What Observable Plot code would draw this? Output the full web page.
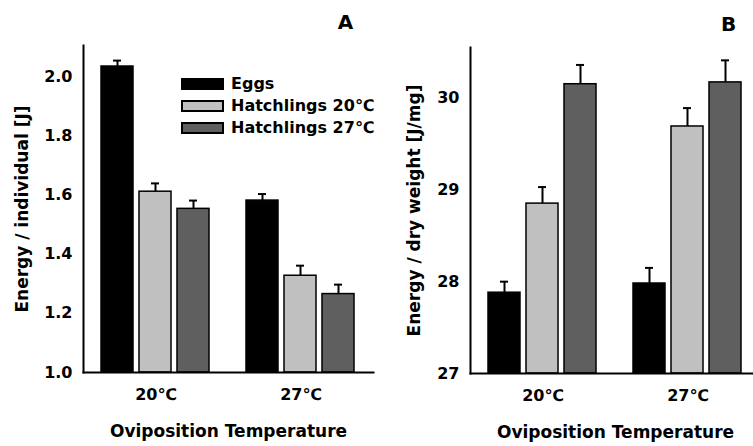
<!DOCTYPE html>
<html><head><meta charset="utf-8">
<script src="https://cdn.jsdelivr.net/npm/d3@7"></script>
<script src="https://cdn.jsdelivr.net/npm/@observablehq/plot@0.6"></script>
<style>
html,body{margin:0;padding:0;background:#fff;overflow:hidden;width:753px;height:446px}
#a{position:absolute;left:0;top:0;width:380px;height:446px}
#b{position:absolute;left:380px;top:0;width:380px;height:446px}
#legend{position:absolute;left:182px;top:73px}
#legend svg rect{stroke:#000;stroke-width:2px}
</style></head><body>
<div id="a"></div><div id="b"></div><div id="legend"></div>
<script>
const temperatures = ["20℃", "27℃"];
const groups = ["Eggs", "Hatchlings 20℃", "Hatchlings 27℃"];
const colors = ["#000000", "#c0c0c0", "#5f5f5f"];
const energyIndividual = [[2.034, 1.611, 1.553], [1.581, 1.327, 1.265]];
const energyIndividualSE = [[0.020, 0.028, 0.028], [0.022, 0.034, 0.032]];
const energyDryWeight = [[27.88, 28.85, 30.15], [27.98, 29.69, 30.17]];
const energyDryWeightSE = [[0.12, 0.18, 0.21], [0.17, 0.20, 0.24]];
const ticksA = [1.0, 1.2, 1.4, 1.6, 1.8, 2.0];
const ticksB = [27, 28, 29, 30];
const FONT = "'DejaVu Sans', 'Liberation Sans', Arial, sans-serif";

function rows(means, ses) {
  const out = [];
  temperatures.forEach((t, i) => groups.forEach((g, j) => out.push({temp: t, group: g, mean: means[i][j], top: means[i][j] + ses[i][j]})));
  return out;
}

function panel({data, domain, ticks, fmt, base, ylabel, letter, ml, mr, mt, mb, labelDx, letterDx}) {
  return Plot.plot({
    width: 380, height: 446,
    marginLeft: ml, marginRight: mr, marginTop: mt, marginBottom: mb,
    style: {fontFamily: FONT, fontWeight: "bold", fontSize: "16px", color: "#000", background: "#fff"},
    fx: {domain: temperatures, padding: 0, label: null},
    x: {domain: groups, paddingInner: 0.155, paddingOuter: 0.46, axis: null},
    y: {domain, axis: null},
    color: {domain: groups, range: colors},
    marks: [
      Plot.ruleX(data, {fx: "temp", x: "group", y1: "mean", y2: "top", stroke: "#000", strokeWidth: 2}),
      Plot.tickY(data, {fx: "temp", x: "group", y: "top", stroke: "#000", strokeWidth: 2, inset: 12}),
      Plot.barY(data, {fx: "temp", x: "group", y1: base, y2: "mean", fill: "group", stroke: "#000", strokeWidth: 1.5}),
      Plot.axisY({ticks, tickFormat: fmt, tickSize: 0, tickPadding: 11, label: null, facetAnchor: "left", fontSize: 16}),
      Plot.axisFx({anchor: "bottom", tickSize: 0, tickPadding: 16, label: null, fontSize: 16}),
      Plot.frame({anchor: "left", facet: "super", strokeWidth: 2}),
      Plot.frame({anchor: "bottom", facet: "super", strokeWidth: 2}),
      Plot.text([ylabel], {facet: "super", frameAnchor: "left", textAnchor: "middle", lineAnchor: "middle", rotate: -90, dx: labelDx, fontSize: 17}),
      Plot.text(["Oviposition Temperature"], {facet: "super", frameAnchor: "bottom", lineAnchor: "middle", dy: 59, fontSize: 17}),
      Plot.text([letter], {facet: "super", frameAnchor: "top-right", textAnchor: "middle", lineAnchor: "middle", dx: letterDx, dy: -23, fontSize: 20})
    ]
  });
}

document.getElementById("a").append(panel({
  data: rows(energyIndividual, energyIndividualSE), domain: [1, 2.105], ticks: ticksA, fmt: d3.format(".1f"), base: 1,
  ylabel: "Energy / individual [J]", letter: "A", ml: 83, mr: 7, mt: 45, mb: 74, labelDx: -61, letterDx: -28
}));
document.getElementById("b").append(panel({
  data: rows(energyDryWeight, energyDryWeightSE), domain: [27, 30.55], ticks: ticksB, fmt: d3.format("d"), base: 27,
  ylabel: "Energy / dry weight [J/mg]", letter: "B", ml: 90, mr: 0, mt: 47, mb: 73, labelDx: -56, letterDx: -32
}));
document.getElementById("legend").append(Plot.legend({
  color: {domain: groups, range: colors}, legend: "swatches", columns: 1,
  swatchWidth: 41, swatchHeight: 10,
  style: {fontFamily: FONT, fontWeight: "bold", fontSize: "16px", color: "#000", lineHeight: "21px"}
}));
</script></body></html>
